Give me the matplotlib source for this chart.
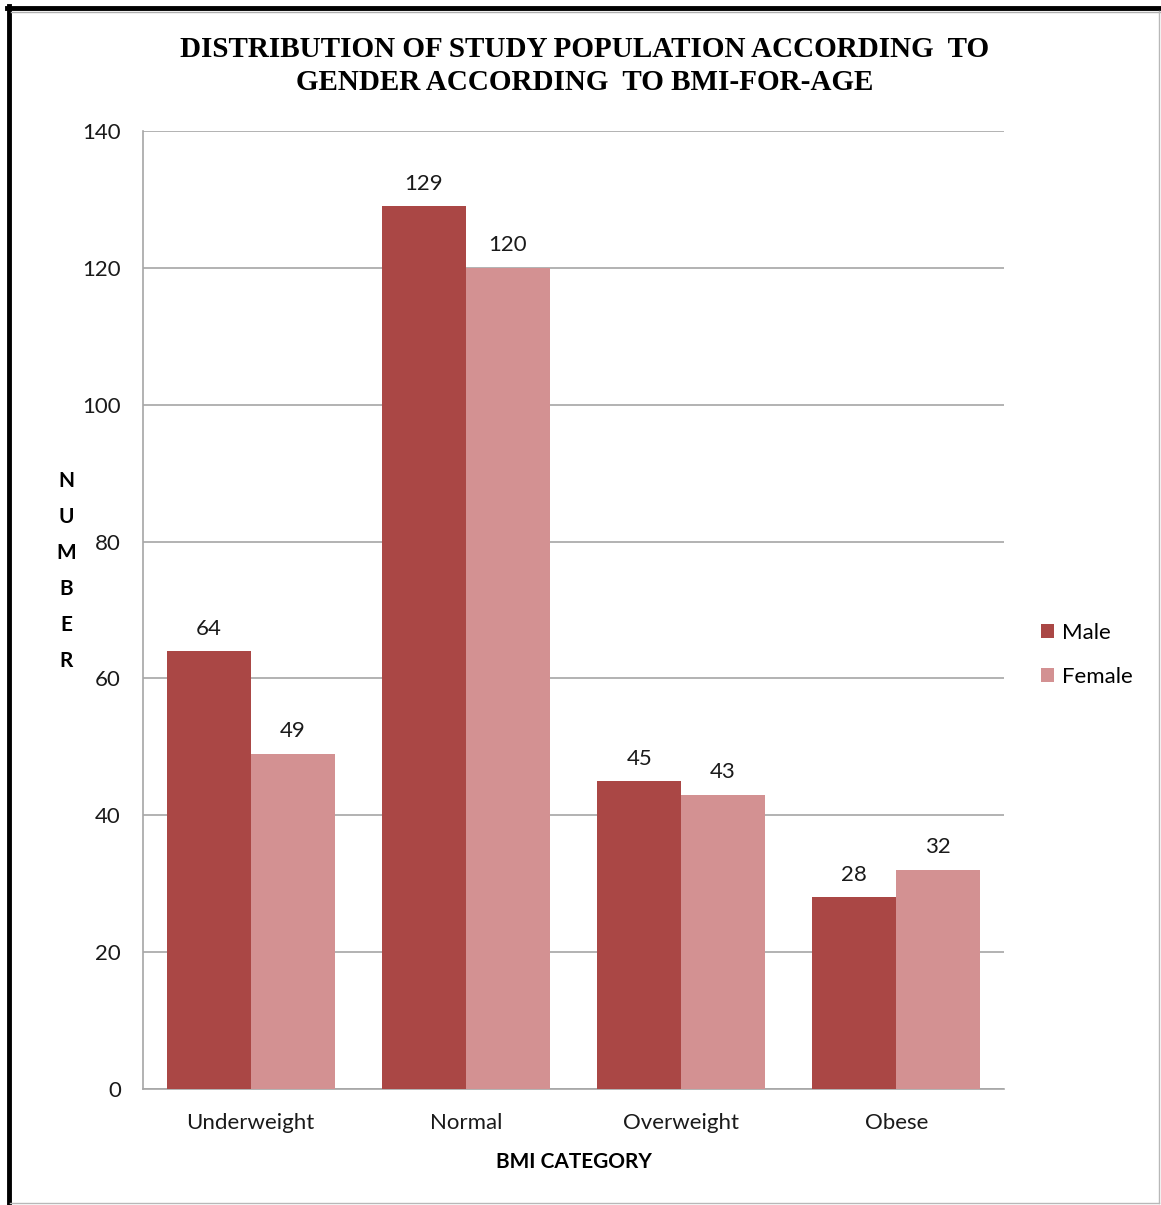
import matplotlib.pyplot as plt
import numpy as np

# BMI-for-age counts by gender
categories = ['Underweight', 'Normal', 'Overweight', 'Obese']
male = [64, 129, 45, 28]
female = [49, 120, 43, 32]
y_ticks = [0, 20, 40, 60, 80, 100, 120, 140]

male_color = '#AA4745'
female_color = '#D39192'
grid_color = '#A6A6A6'
body_font = ['Lato', 'DejaVu Sans']
fs = 16

fig = plt.figure(figsize=(11.61, 12.05), dpi=100)
ax = fig.add_axes([0.1232, 0.0963, 0.7416, 0.795])

x = np.arange(len(categories))
w = 0.39
b1 = ax.bar(x - w / 2, male, w, color=male_color, label='Male', zorder=3)
b2 = ax.bar(x + w / 2, female, w, color=female_color, label='Female', zorder=3)

# value labels above each bar
for bars in (b1, b2):
    for rect in bars:
        h = rect.get_height()
        ax.annotate(f'{h:g}', (rect.get_x() + rect.get_width() / 2, h),
                    xytext=(0, 9), textcoords='offset points',
                    ha='center', va='bottom', fontsize=fs,
                    family=body_font, color='#1a1a1a')

ax.set_xlim(-0.5, len(categories) - 0.5)
ax.set_ylim(0, 140)
ax.set_yticks(y_ticks)
ax.set_xticks(x)
ax.set_xticklabels(categories)
ax.tick_params(length=0, labelsize=fs, colors='#1a1a1a')
ax.tick_params(axis='x', pad=17)
ax.tick_params(axis='y', pad=16)
for lab in ax.get_xticklabels() + ax.get_yticklabels():
    lab.set_family(body_font)

ax.yaxis.grid(True, color=grid_color, linewidth=1.2, zorder=0)
for side in ['top', 'right']:
    ax.spines[side].set_visible(False)
for side in ['left', 'bottom']:
    ax.spines[side].set_color(grid_color)
    ax.spines[side].set_linewidth(1.2)

ax.set_xlabel('BMI CATEGORY', fontsize=15, fontweight='bold',
              family=body_font, labelpad=14)

# vertical stacked axis title
fig.text(66 / 1161, 1 - 571 / 1205, '\n'.join('NUMBER'), ha='center', va='center',
         fontsize=15, fontweight='bold', family=body_font, linespacing=2.0)

fig.text(585 / 1161, 1 - 66 / 1205,
         'DISTRIBUTION OF STUDY POPULATION ACCORDING  TO\nGENDER ACCORDING  TO BMI-FOR-AGE',
         ha='center', va='center', fontsize=21, fontweight='bold',
         family=['Liberation Serif', 'DejaVu Serif'], linespacing=1.32)

leg = fig.legend(loc='center left', bbox_to_anchor=(1021 / 1161, 1 - 655 / 1205),
                 frameon=False, handlelength=0.6, handleheight=0.6,
                 labelspacing=1.1, handletextpad=0.35,
                 prop={'family': body_font, 'size': fs})

# frame around the chart: heavy top/left, thin grey right/bottom
fig.add_artist(plt.Line2D([8.5 / 1161, 8.5 / 1161], [0.002, 1 - 6 / 1205],
                          transform=fig.transFigure, color='black', linewidth=3.5))
fig.add_artist(plt.Line2D([7 / 1161, 1], [1 - 8 / 1205, 1 - 8 / 1205],
                          transform=fig.transFigure, color='black', linewidth=3.5))
fig.add_artist(plt.Line2D([11 / 1161, 1], [1 - 11.5 / 1205, 1 - 11.5 / 1205],
                          transform=fig.transFigure, color='#B0B0B0', linewidth=1))
fig.add_artist(plt.Line2D([1159 / 1161, 1159 / 1161], [2 / 1205, 1 - 11 / 1205],
                          transform=fig.transFigure, color='#B8B8B8', linewidth=1))
fig.add_artist(plt.Line2D([10 / 1161, 1159 / 1161], [2 / 1205, 2 / 1205],
                          transform=fig.transFigure, color='#B8B8B8', linewidth=1))

fig.savefig('out.png', dpi=100)
